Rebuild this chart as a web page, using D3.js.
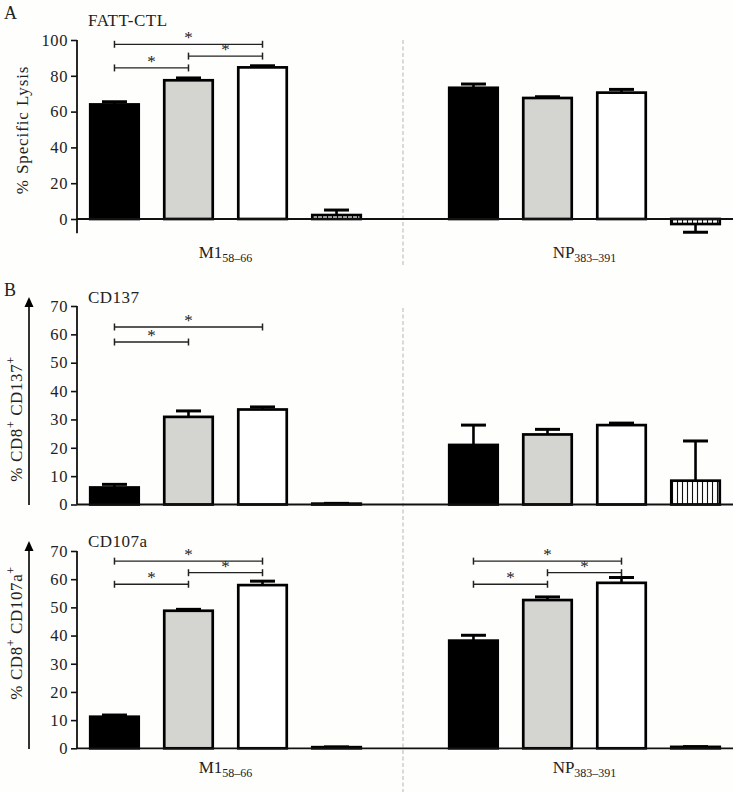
<!DOCTYPE html>
<html><head><meta charset="utf-8">
<script src="https://cdn.jsdelivr.net/npm/d3@7"></script>
<style>
body{margin:0;background:#fefefc}
svg{display:block}
text{font-family:"Liberation Serif","Times New Roman",serif;fill:#222}
</style>
</head><body><div id="chart"></div>
<script>
// ---------- data ----------
const groups = ["M1", "NP"];
const groupMain = ["M1", "NP"];
const groupSub = ["58–66", "383–391"];
const conditions = ["c1", "c2", "c3", "c4"];

const lysisM1 = [64.0, 77.5, 84.7, 2.2];
const lysisM1Err = [1.5, 1.3, 0.9, 2.8];
const lysisNP = [73.3, 67.6, 70.6, -2.8];
const lysisNPErr = [2.1, 0.7, 1.8, 4.6];

const cd137M1 = [6.0, 30.9, 33.5, 0.3];
const cd137M1Err = [1.1, 2.1, 0.9, 0.1];
const cd137NP = [21.0, 24.7, 28.0, 8.4];
const cd137NPErr = [7.0, 1.8, 0.7, 14.0];

const cd107M1 = [11.2, 48.8, 57.9, 0.4];
const cd107M1Err = [0.6, 0.5, 1.4, 0.1];
const cd107NP = [38.2, 52.6, 58.7, 0.5];
const cd107NPErr = [1.9, 1.1, 1.9, 0.1];

// significance brackets: [group, fromCondIndex, toCondIndex, level]
const lysisSig = [["M1", 0, 2, 97.6], ["M1", 1, 2, 91.0], ["M1", 0, 1, 84.4]];
const cd137Sig = [["M1", 0, 2, 62.6], ["M1", 0, 1, 57.3]];
const cd107Sig = [["M1", 0, 2, 66.4], ["M1", 1, 2, 62.3], ["M1", 0, 1, 58.2],
                  ["NP", 0, 2, 66.4], ["NP", 1, 2, 62.3], ["NP", 0, 1, 58.2]];

const lysisTicks = [0, 20, 40, 60, 80, 100];
const cdTicks = [0, 10, 20, 30, 40, 50, 60, 70];

// ---------- setup ----------
const W = 733, H = 792;
const svg = d3.select("#chart").append("svg").attr("width", W).attr("height", H);
svg.append("rect").attr("width", W).attr("height", H).attr("fill", "#fefefc");

const defs = svg.append("defs");
const pat = defs.append("pattern").attr("id", "vstripe").attr("patternUnits", "userSpaceOnUse")
  .attr("width", 5).attr("height", 10);
pat.append("rect").attr("width", 5).attr("height", 10).attr("fill", "#fff");
pat.append("line").attr("x1", 2.5).attr("x2", 2.5).attr("y1", 0).attr("y2", 10)
  .attr("stroke", "#111").attr("stroke-width", 1.1);

const fills = ["#000", "#d4d5d1", "#fff", "url(#vstripe)"];

const xOuter = d3.scaleBand().domain(groups).range([46, 764]).padding(0);
const xInner = d3.scaleBand().domain(conditions).range([0, xOuter.bandwidth()])
  .paddingInner(0.31).paddingOuter(0.58);
const xAxisLeft = 77, xAxisRight = 733;

function barX(g, i) { return xOuter(g) + xInner(conditions[i]); }
function barC(g, i) { return barX(g, i) + xInner.bandwidth() / 2; }

function drawPanel(cfg) {
  const y = d3.scaleLinear().domain(cfg.domain).range(cfg.range);
  const p = svg.append("g");
  const ax = p.append("g").attr("transform", `translate(${xAxisLeft},0)`)
    .call(d3.axisLeft(y).tickValues(cfg.ticks).tickSize(6).tickPadding(3).tickFormat(d3.format("d")));
  ax.select(".domain").remove();
  ax.selectAll(".tick line").attr("stroke", "#111").attr("stroke-width", 1.6);
  ax.selectAll(".tick text").attr("font-size", 16.5).attr("letter-spacing", 0.6)
    .attr("font-family", "Liberation Serif").attr("fill", "#222");
  p.append("line").attr("x1", xAxisLeft).attr("x2", xAxisLeft)
    .attr("y1", y(cfg.axisMin)).attr("y2", y(cfg.domain[1]))
    .attr("stroke", "#111").attr("stroke-width", 1.8);
  cfg.series.forEach(([g, vals, errs]) => {
    vals.forEach((v, i) => {
      const x0 = barX(g, i), bw = xInner.bandwidth(), cx = barC(g, i);
      const top = v >= 0 ? y(v) : y(0);
      const hgt = Math.abs(y(v) - y(0));
      const e = v + (v >= 0 ? errs[i] : -errs[i]);
      p.append("line").attr("x1", cx).attr("x2", cx).attr("y1", y(v)).attr("y2", y(e))
        .attr("stroke", "#000").attr("stroke-width", 2.6);
      p.append("line").attr("x1", cx - 12.5).attr("x2", cx + 12.5).attr("y1", y(e)).attr("y2", y(e))
        .attr("stroke", "#000").attr("stroke-width", 3);
      p.append("rect").attr("x", x0 + 1.3).attr("y", top)
        .attr("width", bw - 2.6).attr("height", Math.max(hgt, 0.5))
        .attr("fill", fills[i]).attr("stroke", "#000").attr("stroke-width", 2.7);
    });
  });
  p.append("line").attr("x1", xAxisLeft).attr("x2", xAxisRight).attr("y1", y(0)).attr("y2", y(0))
    .attr("stroke", "#111").attr("stroke-width", 1.8);
  cfg.sig.forEach(([g, a, b, lv]) => {
    const x1 = barC(g, a), x2 = barC(g, b), yy = y(lv);
    p.append("line").attr("x1", x1).attr("x2", x2).attr("y1", yy).attr("y2", yy)
      .attr("stroke", "#222").attr("stroke-width", 1.3);
    [x1, x2].forEach(xx => p.append("line").attr("x1", xx).attr("x2", xx)
      .attr("y1", yy - 3.5).attr("y2", yy + 3.5).attr("stroke", "#222").attr("stroke-width", 1.5));
    p.append("text").attr("x", (x1 + x2) / 2).attr("y", yy - 1).attr("text-anchor", "middle")
      .attr("font-size", 17).text("*");
  });
  p.append("text").attr("x", 88).attr("y", cfg.titleY).attr("font-size", 17)
    .attr("letter-spacing", 0.5).text(cfg.title);
  return y;
}

// divider lines
svg.append("line").attr("x1", 403).attr("x2", 403).attr("y1", 40).attr("y2", 266)
  .attr("stroke", "#d6d6d4").attr("stroke-width", 1.8).attr("stroke-dasharray", "4,2.5");
svg.append("line").attr("x1", 403).attr("x2", 403).attr("y1", 308).attr("y2", 792)
  .attr("stroke", "#d6d6d4").attr("stroke-width", 1.8).attr("stroke-dasharray", "4,2.5");

drawPanel({
  domain: [0, 100], range: [219, 40], axisMin: -8, ticks: lysisTicks,
  series: [["M1", lysisM1, lysisM1Err], ["NP", lysisNP, lysisNPErr]],
  sig: lysisSig, title: "FATT-CTL", titleY: 26
});
drawPanel({
  domain: [0, 70], range: [504.5, 306], axisMin: 0, ticks: cdTicks,
  series: [["M1", cd137M1, cd137M1Err], ["NP", cd137NP, cd137NPErr]],
  sig: cd137Sig, title: "CD137", titleY: 303
});
drawPanel({
  domain: [0, 70], range: [748.3, 551], axisMin: 0, ticks: cdTicks,
  series: [["M1", cd107M1, cd107M1Err], ["NP", cd107NP, cd107NPErr]],
  sig: cd107Sig, title: "CD107a", titleY: 547
});

svg.append("text").attr("x", 4).attr("y", 19).attr("font-size", 18).text("A");
svg.append("text").attr("x", 4).attr("y", 296).attr("font-size", 18).text("B");

svg.append("text").attr("transform", "translate(28,130) rotate(-90)").attr("text-anchor", "middle")
  .attr("font-size", 17).attr("letter-spacing", 0.9).text("% Specific Lysis");

function supLabel(x, yc, parts) {
  const t = svg.append("text").attr("transform", `translate(${x},${yc}) rotate(-90)`)
    .attr("text-anchor", "middle").attr("font-size", 17).attr("letter-spacing", 0.6);
  let acc = 0;
  parts.forEach(([s, sup]) => {
    const target = sup ? -7 : 0;
    t.append("tspan").attr("dy", target - acc).attr("font-size", sup ? 12 : 17).text(s);
    acc = target;
  });
}
supLabel(22, 419, [["% CD8", false], ["+", true], [" CD137", false], ["+", true]]);
supLabel(22, 633, [["% CD8", false], ["+", true], [" CD107a", false], ["+", true]]);

function arrow(x, y1, y2) {
  svg.append("line").attr("x1", x).attr("x2", x).attr("y1", y1).attr("y2", y2 + 8)
    .attr("stroke", "#000").attr("stroke-width", 1.6);
  svg.append("path").attr("d", `M${x - 4.5},${y2 + 10} L${x},${y2} L${x + 4.5},${y2 + 10} Z`).attr("fill", "#000");
}
arrow(29, 505, 297);
arrow(29, 749, 541);

function groupLabel(yb) {
  groups.forEach((g, i) => {
    const t = svg.append("text").attr("x", xOuter(g) + xOuter.bandwidth() / 2).attr("y", yb)
      .attr("text-anchor", "middle").attr("font-size", 17);
    t.append("tspan").text(groupMain[i]);
    t.append("tspan").attr("font-size", 12).attr("dy", 4).text(groupSub[i]);
  });
}
groupLabel(258);
groupLabel(773);
</script>
</body></html>
